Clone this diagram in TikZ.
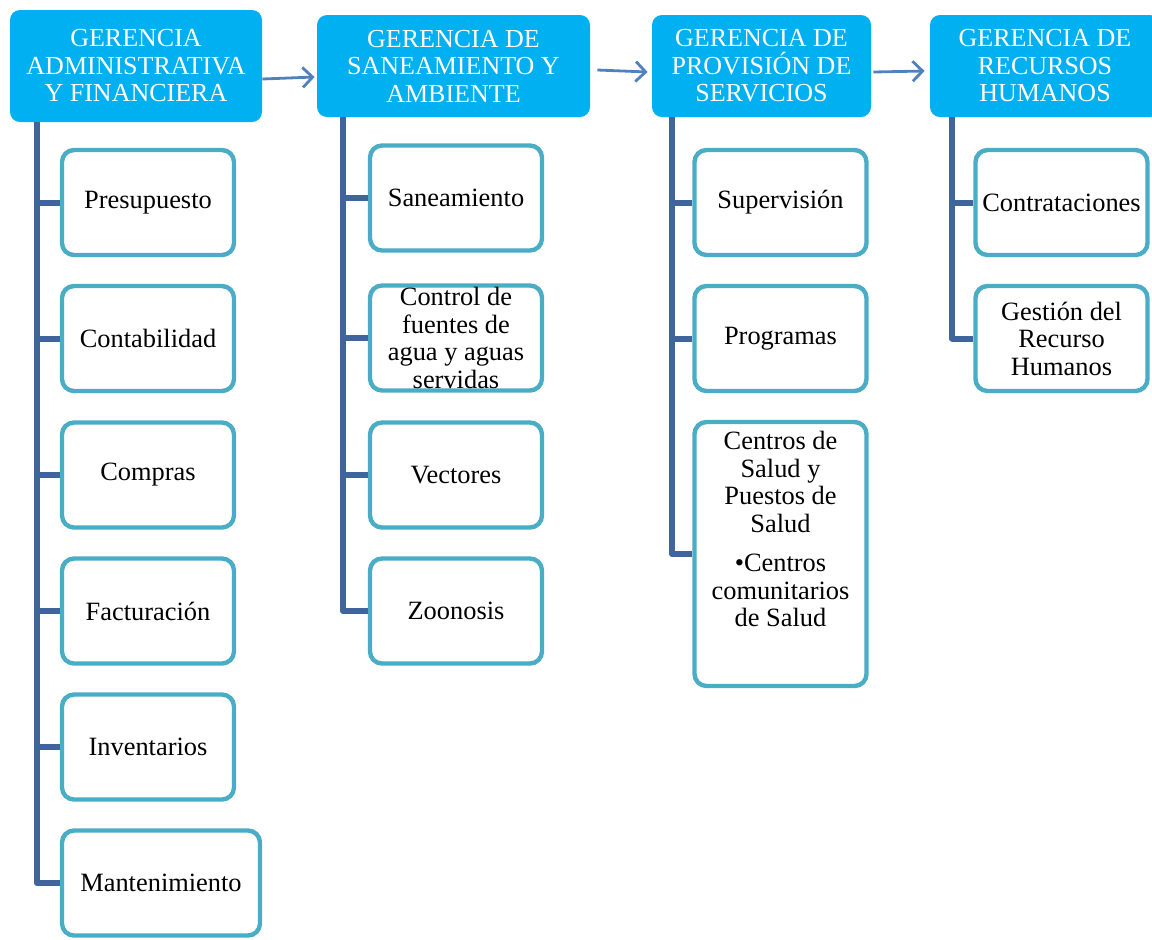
\documentclass[tikz,border=0pt]{standalone}
\usepackage{fontspec}
\setmainfont{Liberation Serif}
\usetikzlibrary{arrows.meta}
\definecolor{jefe}{HTML}{00B0F0}
\definecolor{borde}{HTML}{4BACC6}
\definecolor{linea}{HTML}{3F659A}
\definecolor{flecha}{HTML}{4F81BD}

\begin{document}
\begin{tikzpicture}[x=0.5pt,y=-0.5pt,
    gerencia/.style={fill=jefe,text=white,rounded corners=5pt,align=center,
        font=\fontsize{13}{13.75}\selectfont,inner sep=0pt,minimum height=51pt},
    unidad/.style={draw=borde,line width=2.2pt,fill=white,rounded corners=6pt,align=center,
        font=\fontsize{13.2}{13.75}\selectfont,inner sep=0pt,minimum width=86pt,minimum height=52.5pt},
    rama/.style={draw=linea,line width=3pt,line join=round},
    paso/.style={draw=flecha,line width=1.4pt,-{Straight Barb[length=5pt,width=10pt]}}]
    \useasboundingbox (0,0) rectangle (1152,939);

    % gerencias
    \node[gerencia,minimum width=126pt,minimum height=56pt] (g1) at (136,66) {GERENCIA\\ADMINISTRATIVA\\Y FINANCIERA};
    \node[gerencia,minimum width=136.5pt] (g2) at (453.5,66) {GERENCIA DE\\SANEAMIENTO Y\\AMBIENTE};
    \node[gerencia,minimum width=109.5pt] (g3) at (761.5,66) {GERENCIA DE\\PROVISIÓN DE\\SERVICIOS};
    \node[gerencia,minimum width=115pt] (g4) at (1045,66) {GERENCIA DE\\RECURSOS\\HUMANOS};

    \draw[paso] ([yshift=-6.5pt]g1.east) -- ([xshift=-1pt,yshift=-5.5pt]g2.west);
    \draw[paso] ([xshift=3.5pt,yshift=-2pt]g2.east) -- ([xshift=-2pt,yshift=-3pt]g3.west);
    \draw[paso] ([xshift=1pt,yshift=-3pt]g3.east) -- ([xshift=-2.5pt,yshift=-2.5pt]g4.west);

    % unidades
    \node[unidad] (presu) at (148,202.5) {Presupuesto};
    \node[unidad] (conta) at (148,338.5) {Contabilidad};
    \node[unidad] (compras) at (148,475) {Compras};
    \node[unidad] (factu) at (148,611) {Facturación};
    \node[unidad] (inven) at (148,747) {Inventarios};
    \node[unidad,minimum width=99pt] (mante) at (161,883) {Mantenimiento};

    \node[unidad] (sanea) at (456,198) {Saneamiento};
    \node[unidad] (fuentes) at (456,338) {Control de\\fuentes de\\agua y aguas\\servidas};
    \node[unidad] (vecto) at (456,475) {Vectores};
    \node[unidad] (zoono) at (456,611) {Zoonosis};

    \node[unidad] (super) at (780.5,202.5) {Supervisión};
    \node[unidad] (progra) at (780.5,338.5) {Programas};
    \node[unidad,minimum height=132pt] (centros) at (780.5,554)
        {Centros de\\Salud y\\Puestos de\\Salud\\[6pt]•Centros\\comunitarios\\de Salud\\[11pt]\mbox{}};

    \node[unidad] (contra) at (1061.5,202.5) {Contrataciones};
    \node[unidad] (gestion) at (1061.5,338.5) {Gestión del\\Recurso\\Humanos};

    % ramas
    \coordinate (t1) at (37,122);
    \coordinate (t2) at (343,117);
    \coordinate (t3) at (672,117);
    \coordinate (t4) at (952,117);
    \foreach \u in {presu,conta,compras,factu,inven,mante}
        \draw[rama] (t1) |- (\u.west);
    \foreach \u in {sanea,fuentes,vecto,zoono}
        \draw[rama] (t2) |- (\u.west);
    \foreach \u in {super,progra,centros}
        \draw[rama] (t3) |- (\u.west);
    \foreach \u in {contra,gestion}
        \draw[rama] (t4) |- (\u.west);
\end{tikzpicture}
\end{document}
